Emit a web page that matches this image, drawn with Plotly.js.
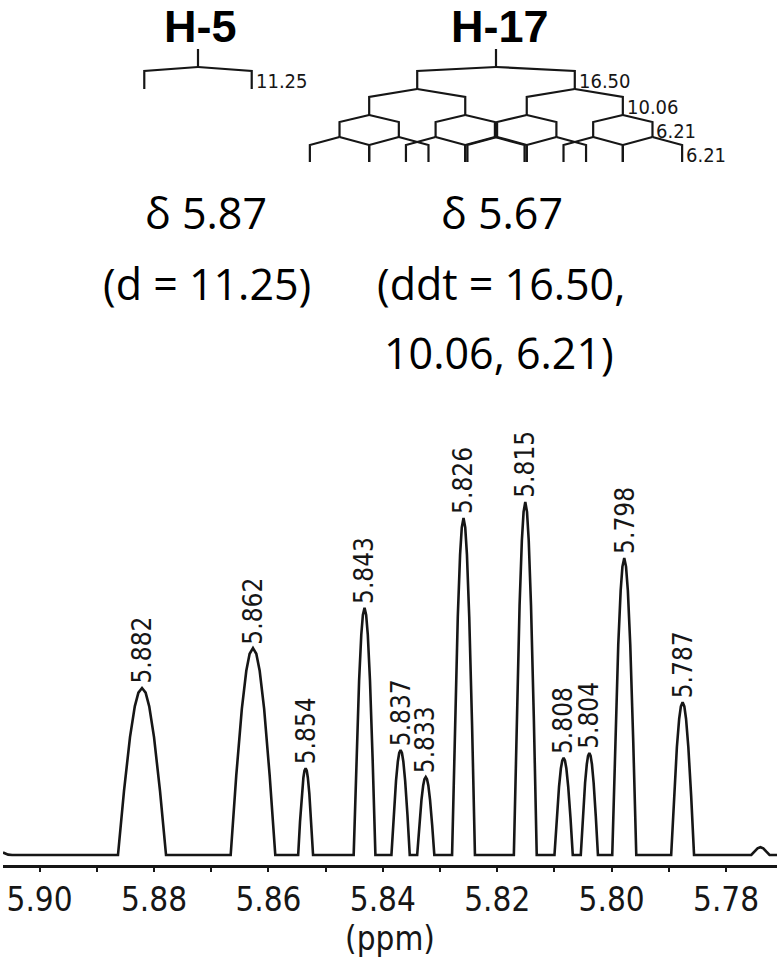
<!DOCTYPE html>
<html>
<head>
<meta charset="utf-8">
<script src="https://cdn.plot.ly/plotly-3.0.1.min.js"></script>
<style>html,body{margin:0;padding:0;background:#fff;}#chart{width:782px;height:958px;}</style>
</head>
<body>
<div id="chart"></div>
<script>
// ---------- DATA ----------
// Spectrum trace (chemical shift in ppm, intensity in a.u.; tallest peak = 100)
const ppm = [
  5.9064, 5.9060, 5.9055, 5.9048,
  5.8863, 5.88525, 5.8842, 5.88336, 5.88273, 5.8821, 5.88147, 5.88084, 5.8800, 5.87895, 5.8779,
  5.8666, 5.86563, 5.86465, 5.86387, 5.86329, 5.8627, 5.86212, 5.86153, 5.86075, 5.85978, 5.8588,
  5.8548, 5.85448, 5.85415, 5.85389, 5.8537, 5.8535, 5.8533, 5.85311, 5.85285, 5.85253, 5.8522,
  5.8451, 5.84463, 5.84415, 5.84377, 5.84349, 5.8432, 5.84292, 5.84263, 5.84225, 5.84178, 5.8413,
  5.8385, 5.8381, 5.8377, 5.83738, 5.83714, 5.8369, 5.83666, 5.83642, 5.8361, 5.8357, 5.8353,
  5.8340, 5.83363, 5.83325, 5.83295, 5.83273, 5.8325, 5.83228, 5.83205, 5.83175, 5.83138, 5.8310,
  5.8279, 5.8274, 5.8269, 5.8265, 5.8262, 5.8259, 5.8256, 5.8253, 5.8249, 5.8244, 5.8239,
  5.8171, 5.8166, 5.8161, 5.8157, 5.8154, 5.8151, 5.8148, 5.8145, 5.8141, 5.8136, 5.8131,
  5.8100, 5.8096, 5.8092, 5.80888, 5.80864, 5.8084, 5.80816, 5.80792, 5.8076, 5.8072, 5.8068,
  5.8054, 5.80503, 5.80465, 5.80435, 5.80413, 5.8039, 5.80368, 5.80345, 5.80315, 5.80278, 5.8024,
  5.7999, 5.79938, 5.79885, 5.79843, 5.79812, 5.7978, 5.79749, 5.79717, 5.79675, 5.79623, 5.7957,
  5.7896, 5.7891, 5.7886, 5.7882, 5.7879, 5.7876, 5.7873, 5.7870, 5.7866, 5.7861, 5.7856,
  5.7756, 5.7750, 5.7745, 5.7740, 5.7735, 5.7730, 5.7724,
  5.7711
];
const intensity = [
  0.7, 0.35, 0.1, 0,
  0, 18.1, 33.4, 42.1, 46.0, 47.3, 46.0, 42.1, 33.4, 18.1, 0,
  0, 22.4, 41.4, 52.2, 57.0, 58.6, 57.0, 52.2, 41.4, 22.4, 0,
  0, 9.4, 17.4, 21.9, 23.9, 24.6, 23.9, 21.9, 17.4, 9.4, 0,
  0, 26.8, 49.5, 62.4, 68.0, 70.0, 68.0, 62.4, 49.5, 26.8, 0,
  0, 11.4, 21.0, 26.5, 28.9, 29.7, 28.9, 26.5, 21.0, 11.4, 0,
  0, 8.5, 15.6, 19.7, 21.5, 22.1, 21.5, 19.7, 15.6, 8.5, 0,
  0, 36.6, 67.5, 85.1, 92.8, 95.5, 92.8, 85.1, 67.5, 36.6, 0,
  0, 38.3, 70.7, 89.1, 97.2, 100, 97.2, 89.1, 70.7, 38.3, 0,
  0, 10.5, 19.4, 24.5, 26.7, 27.5, 26.7, 24.5, 19.4, 10.5, 0,
  0, 11.1, 20.4, 25.7, 28.1, 28.9, 28.1, 25.7, 20.4, 11.1, 0,
  0, 32.2, 59.5, 74.9, 81.7, 84.1, 81.7, 74.9, 59.5, 32.2, 0,
  0, 16.6, 30.6, 38.6, 42.1, 43.3, 42.1, 38.6, 30.6, 16.6, 0,
  0, 1.0, 1.9, 2.2, 1.9, 1.0, 0,
  0
];
// Picked peaks: position (ppm), label, height (a.u.)
const peakPpm    = [5.8821, 5.8627, 5.8535, 5.8432, 5.8369, 5.8325, 5.8259, 5.8151, 5.8084, 5.8039, 5.7978, 5.7876];
const peakLabels = ["5.882","5.862","5.854","5.843","5.837","5.833","5.826","5.815","5.808","5.804","5.798","5.787"];
const peakHeight = [47.3, 58.6, 24.6, 70.0, 29.7, 22.1, 95.5, 100, 27.5, 28.9, 84.1, 43.3];
// Axis ticks
const tickVals   = [5.90, 5.88, 5.86, 5.84, 5.82, 5.80, 5.78];
const tickLabels = ["5.90","5.88","5.86","5.84","5.82","5.80","5.78"];
// Multiplet annotations
const protonNames  = ["H-5", "H-17"];
const couplingsH5  = [11.25];
const couplingsH17 = [16.50, 10.06, 6.21, 6.21];
const couplingText5  = ["11.25"];
const couplingText17 = ["16.50", "10.06", "6.21", "6.21"];
const shiftText5  = ["δ 5.87", "(d = 11.25)"];
const shiftText17 = ["δ 5.67", "(ddt = 16.50,", "10.06, 6.21)"];

// ---------- LAYOUT HELPERS ----------
const W = 782, H = 958, ML = 3, MR = 5, MT = 0, MB = 93;
const PW = W - ML - MR, PH = H - MT - MB;
const px = x => (x - ML) / PW;
const py = y => 1 - (y - MT) / PH;
const INK = '#161616';
const CONDENSED = 'DejaVu Sans Condensed, DejaVu Sans, sans-serif';
const shapes = [];
const annotations = [];

function seg(pts) {
  let d = 'M' + pts.map(p => px(p[0]).toFixed(5) + ',' + py(p[1]).toFixed(5)).join(' L');
  shapes.push({type: 'path', xref: 'paper', yref: 'paper', path: d,
    line: {color: INK, width: 2.2}});
}

const HZ = 9.55; // px per Hz
const rows = [[67, 71, 89], [89, 97, 115], [115, 122, 137], [137, 145, 162]];
function tree(cx, Js, labels) {
  seg([[cx, 49], [cx, 67]]);
  let xs = [cx];
  Js.forEach((J, i) => {
    const [y0, y1, y2] = rows[i];
    const half = J * HZ / 2;
    const nx = [];
    xs.forEach(x => {
      [x - half, x + half].forEach(c => {
        seg([[x, y0], [c, y1], [c, y2]]);
        nx.push(c);
      });
    });
    const right = Math.max(...nx);
    annotations.push({xref: 'paper', yref: 'paper', x: px(right + 3), y: py((y1 + y2) / 2 + 1),
      xanchor: 'left', yanchor: 'middle', showarrow: false, text: labels[i], borderpad: 0,
      font: {family: CONDENSED, size: 20, color: INK}});
    xs = nx;
  });
}
tree(198, couplingsH5, couplingText5);
tree(496, couplingsH17, couplingText17);

function txt(t, x, y, font, anchor) {
  annotations.push({xref: 'paper', yref: 'paper', x: px(x), y: py(y), xanchor: 'center', yanchor: anchor || 'middle',
    showarrow: false, text: t, font: font, borderpad: 0});
}
const boldFont = {family: 'Liberation Sans, Arial, sans-serif', size: 45, color: '#000', weight: 'bold'};
const bodyFont = {family: 'Open Sans, Noto Sans, sans-serif', size: 43, color: '#000'};
txt(protonNames[0], 200, 0, boldFont, 'top');
txt(protonNames[1], 499.5, 0, boldFont, 'top');
txt(shiftText5[0], 206, 212, bodyFont);
txt(shiftText5[1], 207, 283, bodyFont);
txt(shiftText17[0], 502, 212, bodyFont);
txt(shiftText17[1], 501, 283, bodyFont);
txt(shiftText17[2], 499, 352, bodyFont);

peakPpm.forEach((p, i) => {
  annotations.push({xref: 'x', yref: 'y', x: p, y: peakHeight[i], textangle: -90,
    xanchor: 'center', yanchor: 'bottom', yshift: 3, showarrow: false, text: peakLabels[i], borderpad: 0,
    font: {family: CONDENSED, size: 26, color: INK}});
});

const trace = {x: ppm, y: intensity, type: 'scatter', mode: 'lines',
  line: {color: INK, width: 2.6, shape: 'linear'}, hoverinfo: 'skip'};

const layout = {
  width: W, height: H, margin: {l: ML, r: MR, t: MT, b: MB},
  paper_bgcolor: '#fff', plot_bgcolor: '#fff', showlegend: false,
  xaxis: {range: [5.9064, 5.7711], tickvals: tickVals, ticktext: tickLabels,
    ticks: 'outside', ticklen: 4, tickwidth: 2, tickcolor: INK,
    showline: true, linewidth: 2.6, linecolor: INK, showgrid: false, zeroline: false,
    tickfont: {family: CONDENSED, size: 33, color: INK},
    minor: {dtick: 0.01, tick0: 5.90, ticks: 'outside', ticklen: 4, tickwidth: 2, tickcolor: INK, showgrid: false},
    title: {text: '(ppm)', standoff: 0, font: {family: CONDENSED, size: 33, color: INK}}},
  yaxis: {visible: false, range: [-2.83, 242.2], fixedrange: true},
  shapes: shapes, annotations: annotations
};
Plotly.newPlot('chart', [trace], layout, {displayModeBar: false, staticPlot: true});
</script>
</body>
</html>
